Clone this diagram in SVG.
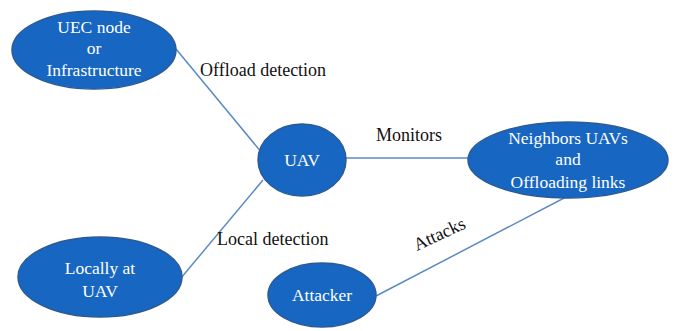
<svg xmlns="http://www.w3.org/2000/svg" width="681" height="331" viewBox="0 0 681 331">
<style>
.node{fill:#1766c2;stroke:#2b5a94;stroke-width:1.5}
.nt{font-family:"Liberation Serif",serif;font-size:17.5px;fill:#ffffff;text-anchor:middle}
.lbl{font-family:"Liberation Serif",serif;font-size:18px;fill:#111111}
.edge{stroke:#5b8ac2;stroke-width:1.5;fill:none}
</style>
<rect width="681" height="331" fill="#ffffff"/>
<g id="connectors">
<line class="edge" x1="176" y1="49" x2="262" y2="153"/>
<line class="edge" x1="181" y1="278" x2="263" y2="180"/>
<line class="edge" x1="346" y1="158" x2="468" y2="158"/>
<line class="edge" x1="376" y1="296" x2="566" y2="197"/>
</g>
<g id="labels">
<text class="lbl" x="200" y="76">Offload detection</text>
<text class="lbl" x="376" y="141">Monitors</text>
<text class="lbl" x="217" y="245">Local detection</text>
<text class="lbl" x="0" y="0" transform="translate(417,251) rotate(-25)">Attacks</text>
</g>
<g id="uec">
<ellipse class="node" cx="94" cy="50" rx="82" ry="39"/>
<text class="nt" x="94" y="33">UEC node</text>
<text class="nt" x="94" y="54">or</text>
<text class="nt" x="94" y="76">Infrastructure</text>
</g>
<g id="uav">
<ellipse class="node" cx="302" cy="160" rx="44" ry="36"/>
<text class="nt" x="302" y="166">UAV</text>
</g>
<g id="neighbors">
<ellipse class="node" cx="568" cy="160" rx="100" ry="38"/>
<text class="nt" x="568" y="144">Neighbors UAVs</text>
<text class="nt" x="568" y="165">and</text>
<text class="nt" x="568" y="188">Offloading links</text>
</g>
<g id="locally">
<ellipse class="node" cx="100" cy="277" rx="82" ry="40"/>
<text class="nt" x="100" y="274">Locally at</text>
<text class="nt" x="100" y="297">UAV</text>
</g>
<g id="attacker">
<ellipse class="node" cx="322" cy="295" rx="54" ry="32"/>
<text class="nt" x="322" y="301">Attacker</text>
</g>
</svg>
